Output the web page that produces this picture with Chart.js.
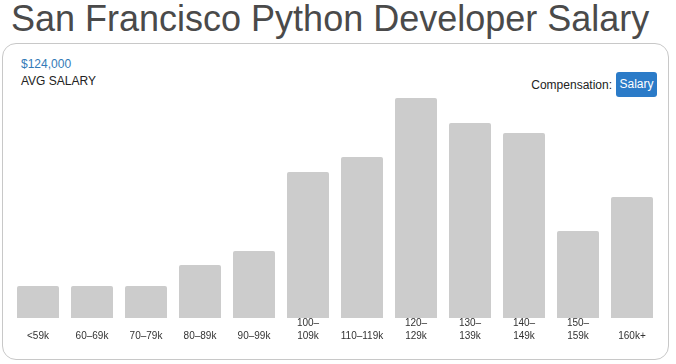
<!DOCTYPE html>
<html>
<head>
<meta charset="utf-8">
<script src="https://cdn.jsdelivr.net/npm/chart.js@4"></script>
<style>
  body { margin: 0; width: 676px; height: 364px; overflow: hidden; background: #fff; font-family: "Liberation Sans", Arial, sans-serif; position: relative; }
  h1 { position: absolute; left: 11px; top: 0; margin: 0; font-weight: normal; font-size: 36px; line-height: 38px; color: #4a4a4a; white-space: nowrap; }
  .card { position: absolute; left: 2px; top: 43px; width: 665px; height: 315px; border: 1px solid #c8c8c8; border-radius: 14px; }
  .avg { position: absolute; left: 21px; top: 57px; font-size: 12px; color: #337ab7; }
  .avglbl { position: absolute; left: 21px; top: 74px; font-size: 12px; color: #222; }
  .comp { position: absolute; right: 64px; top: 78px; font-size: 12px; color: #222; }
  .btn { position: absolute; left: 616px; top: 72px; width: 41px; height: 25px; background: #2b7bc8; color: #fff; border-radius: 3px; font-size: 12px; line-height: 25px; text-align: center; }
  #salary { position: absolute; left: 0; top: 0; }
</style>
</head>
<body>
<h1>San Francisco Python Developer Salary</h1>
<div class="card"></div>
<div class="avg">$124,000</div>
<div class="avglbl">AVG SALARY</div>
<div class="comp">Compensation:</div>
<div class="btn">Salary</div>
<canvas id="salary" width="676" height="364"></canvas>
<script>
var ranges = [
  ['', '<59k'], ['', '60–69k'], ['', '70–79k'], ['', '80–89k'], ['', '90–99k'],
  ['100–', '109k'], ['', '110–119k'], ['120–', '129k'], ['130–', '139k'],
  ['140–', '149k'], ['150–', '159k'], ['', '160k+']
];
var counts = [32, 32, 32, 53, 67, 146, 161, 220, 195, 185, 87, 121];

var ctx = document.getElementById('salary');
var barGraph = new Chart(ctx, {
  type: 'bar',
  data: {
    labels: ranges,
    datasets: [{
      data: counts,
      backgroundColor: '#cccccc',
      hoverBackgroundColor: '#cccccc',
      borderRadius: 2,
      borderSkipped: 'bottom',
      categoryPercentage: 1,
      barPercentage: 42 / 54
    }]
  },
  options: {
    responsive: false,
    animation: false,
    layout: { padding: { left: 11, right: 17, top: 98, bottom: 0 } },
    plugins: { legend: { display: false }, tooltip: { enabled: false } },
    scales: {
      y: { display: false, min: 0, max: 220 },
      x: {
        grid: { display: false, drawTicks: false },
        border: { display: false },
        ticks: {
          color: '#333',
          padding: -1,
          maxRotation: 0,
          autoSkip: false,
          font: { family: '"Liberation Sans", Arial, sans-serif', size: 10, lineHeight: 1.3 }
        },
        afterFit: function(scale) { scale.height = 46; }
      }
    }
  }
});
</script>
</body>
</html>
